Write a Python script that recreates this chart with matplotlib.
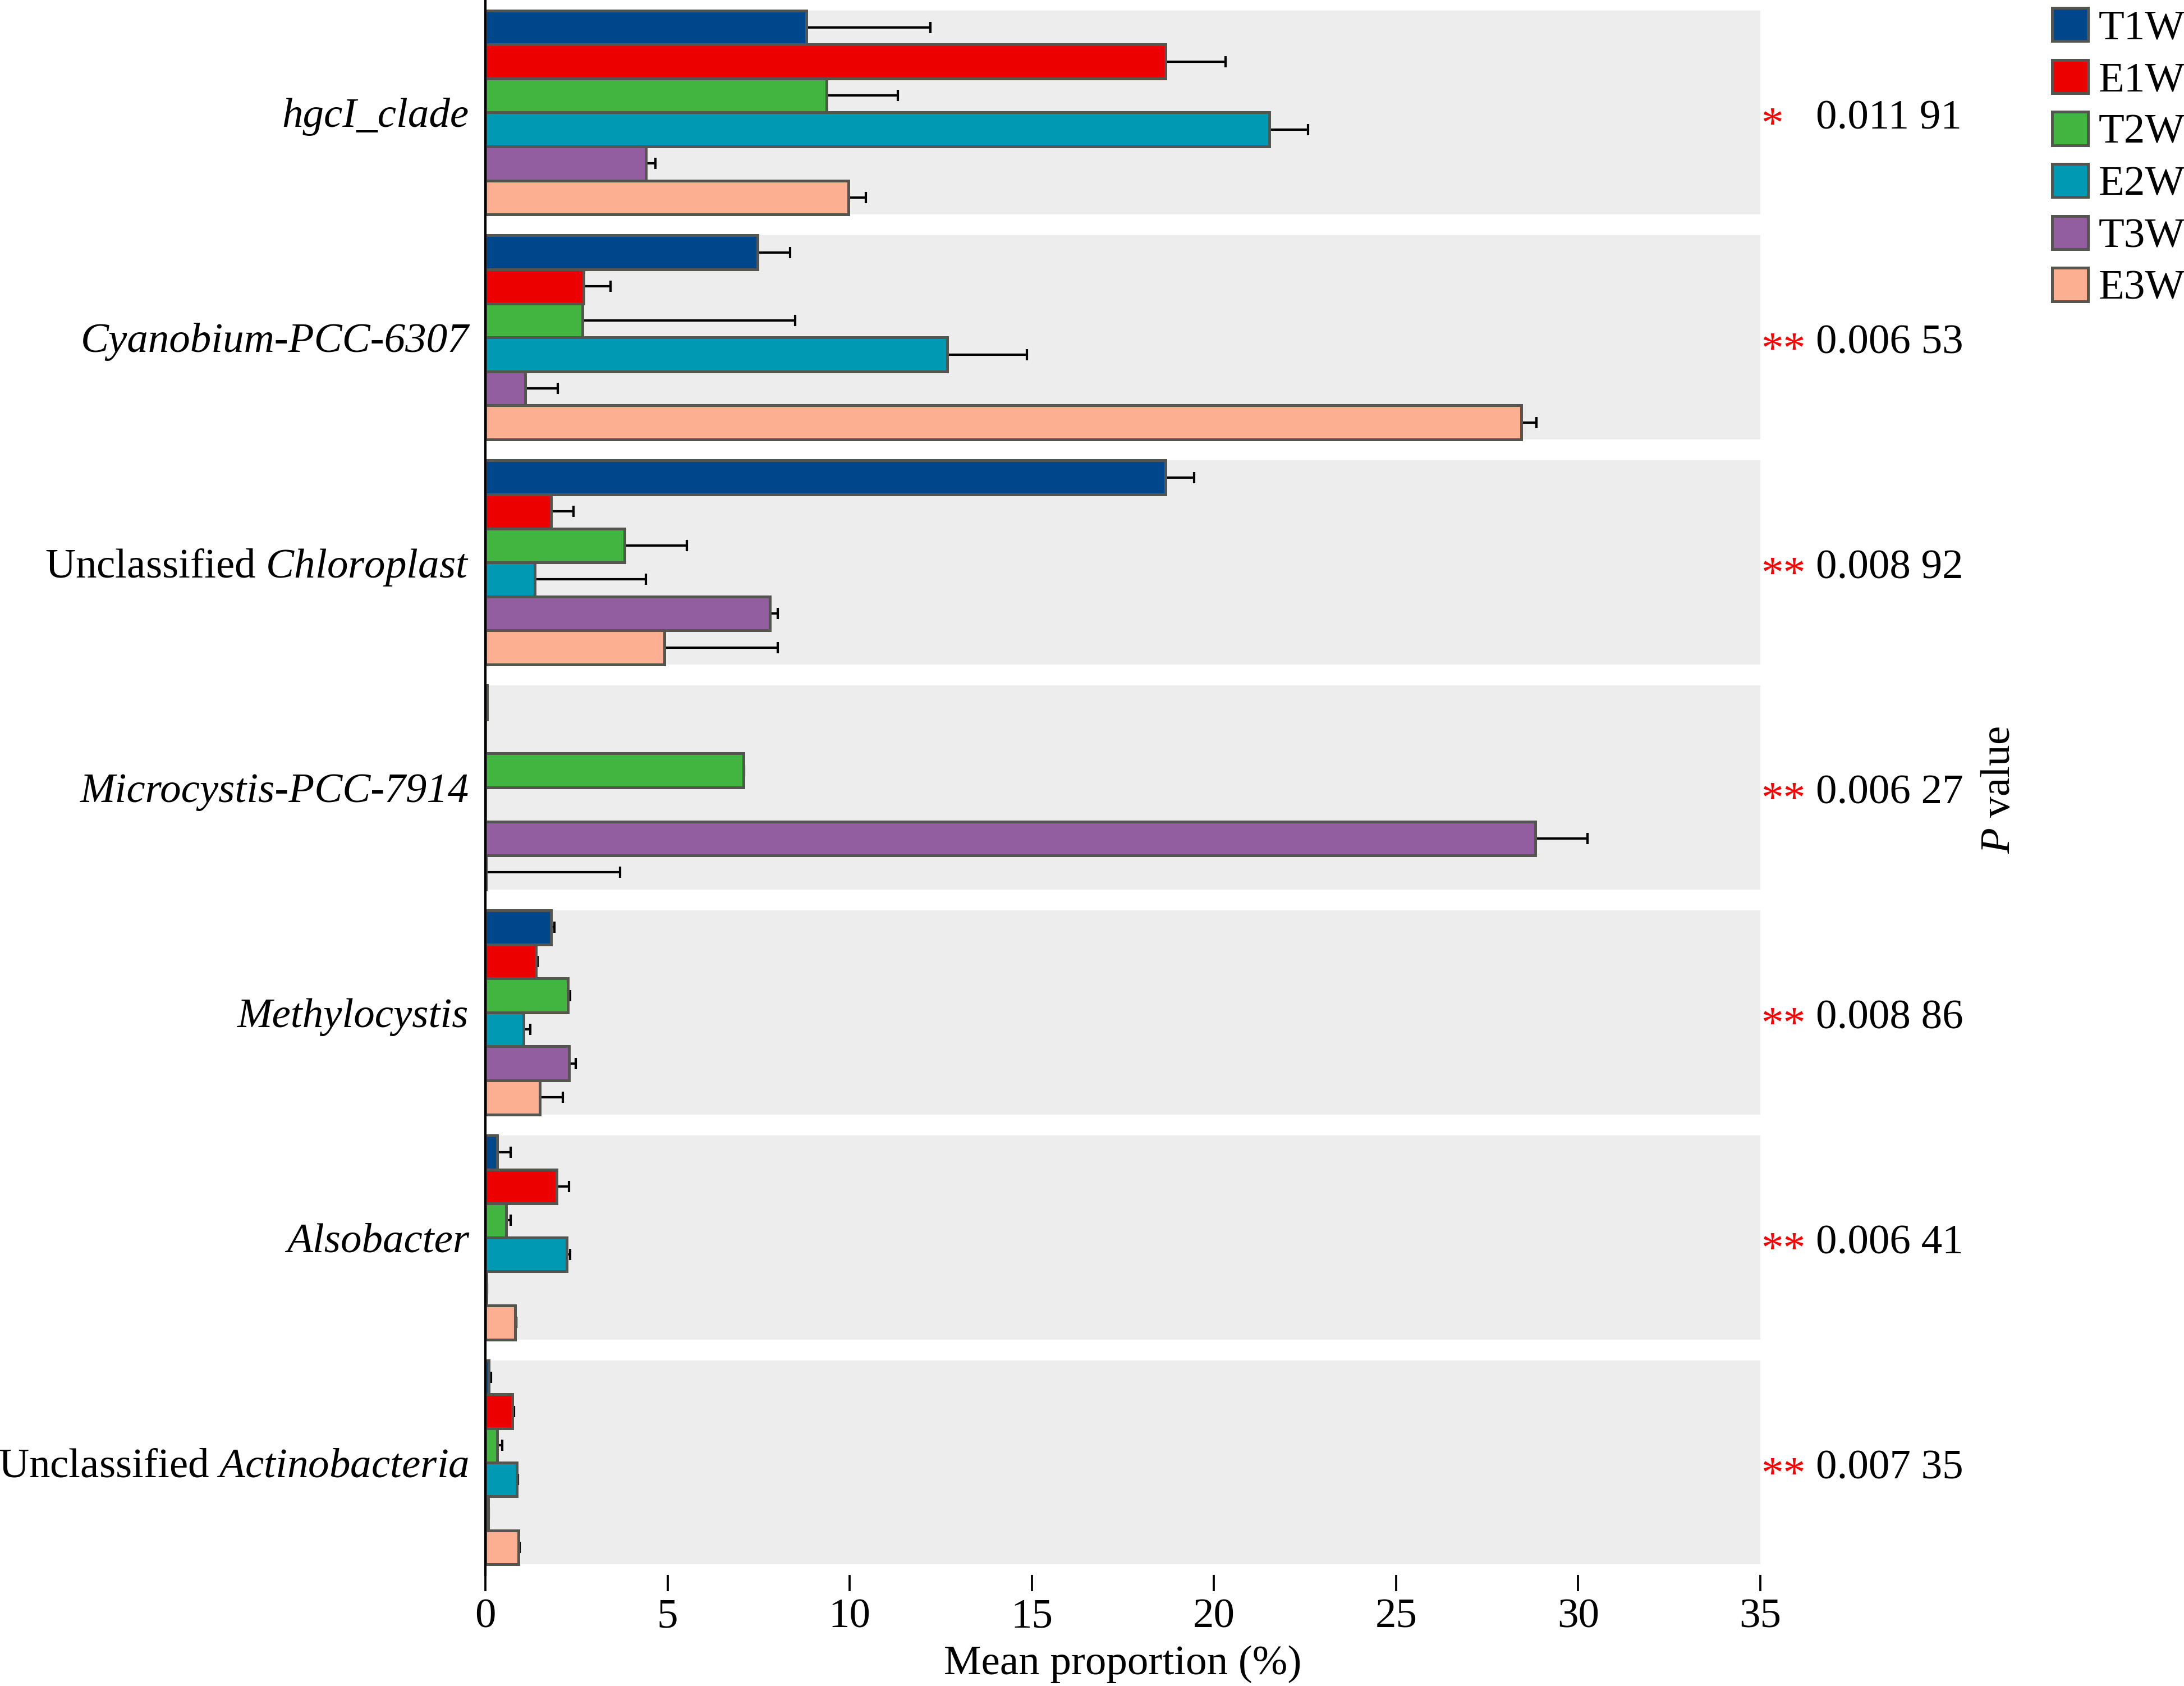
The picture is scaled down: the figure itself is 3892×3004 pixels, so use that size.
import numpy as np
import matplotlib
matplotlib.use("Agg")
import matplotlib.pyplot as plt
from matplotlib import transforms

plt.rcParams['font.family'] = ['Liberation Serif', 'DejaVu Serif']
plt.rcParams['mathtext.fontset'] = 'custom'
plt.rcParams['mathtext.rm'] = 'Liberation Serif'
plt.rcParams['mathtext.it'] = 'Liberation Serif:italic'

# ---------------- data ----------------
genera = ['hgcI_clade', 'Cyanobium-PCC-6307', 'Unclassified Chloroplast',
          'Microcystis-PCC-7914', 'Methylocystis', 'Alsobacter',
          'Unclassified Actinobacteria']
groups = ['T1W', 'E1W', 'T2W', 'E2W', 'T3W', 'E3W']

T1W = [8.81, 7.47, 18.67, 0.05, 1.81, 0.32, 0.10]
E1W = [18.67, 2.70, 1.81, 0.00, 1.38, 1.96, 0.74]
T2W = [9.36, 2.66, 3.82, 7.08, 2.27, 0.57, 0.32]
E2W = [21.52, 12.68, 1.36, 0.00, 1.04, 2.24, 0.87]
T3W = [4.41, 1.10, 7.81, 28.83, 2.29, 0.03, 0.07]
E3W = [9.97, 28.43, 4.92, 0.02, 1.49, 0.82, 0.91]

T1W_err = [3.40, 0.90, 0.79, 0.00, 0.08, 0.37, 0.05]
E1W_err = [1.65, 0.74, 0.61, 0.00, 0.05, 0.33, 0.04]
T2W_err = [1.97, 5.85, 1.71, 0.02, 0.06, 0.12, 0.14]
E2W_err = [1.06, 2.19, 3.05, 0.00, 0.20, 0.09, 0.03]
T3W_err = [0.26, 0.89, 0.21, 1.42, 0.19, 0.02, 0.03]
E3W_err = [0.47, 0.43, 3.10, 3.68, 0.63, 0.03, 0.03]

p_values = ['0.011 91', '0.006 53', '0.008 92', '0.006 27', '0.008 86',
            '0.006 41', '0.007 35']
stars = ['*', '**', '**', '**', '**', '**', '**']
x_ticks = [0, 5, 10, 15, 20, 25, 30, 35]

means = [T1W, E1W, T2W, E2W, T3W, E3W]
errs = [T1W_err, E1W_err, T2W_err, E2W_err, T3W_err, E3W_err]
colors = ['#00468B', '#ED0000', '#42B540', '#0099B4', '#925E9F', '#FDAF91']
edge = '#55554F'

# ---------------- figure ----------------
W, H = 3892, 3004
fig = plt.figure(figsize=(W / 300, H / 300), dpi=300)
ax = fig.add_axes([865 / W, 1 - 2806 / H, (3137 - 865) / W, 2806 / H])

n = len(genera)
yc = np.arange(n)
half = 0.4535
bh = 2 * half / len(groups)

for i in range(n):
    ax.axhspan(i - half, i + half, color='#EDEDED', lw=0, zorder=0)

handles = []
for j, (g, m, e, c) in enumerate(zip(groups, means, errs, colors)):
    ypos = yc - half + (j + 0.5) * bh
    b = ax.barh(ypos, m, height=bh, color=c, edgecolor=edge, linewidth=1.2,
                zorder=3, label=g)
    handles.append(b)
    ax.errorbar(m, ypos, xerr=[np.zeros(n), e], fmt='none', ecolor='black',
                elinewidth=1.0, capsize=2.3, capthick=1.0, zorder=2)

ax.set_xlim(0, 35)
ax.set_ylim(n - 0.5, -0.5)
for s in ['top', 'right', 'bottom']:
    ax.spines[s].set_visible(False)
ax.spines['left'].set_linewidth(1.0)
ax.spines['left'].set_zorder(5)

ax.set_xticks(x_ticks)
ax.set_xticklabels([str(t) for t in x_ticks])
ax.tick_params(axis='x', length=7, width=0.9, pad=3, labelsize=18)

labels = []
for gname in genera:
    if gname.startswith('Unclassified '):
        labels.append('Unclassified $\\mathit{' + gname.split(' ', 1)[1] + '}$')
    else:
        labels.append(gname)
ax.set_yticks(yc)
ax.set_yticklabels(labels)
ax.tick_params(axis='y', length=0, pad=7, labelsize=18)
for lab, gname in zip(ax.get_yticklabels(), genera):
    if not gname.startswith('Unclassified '):
        lab.set_fontstyle('italic')

ax.set_xlabel('Mean proportion (%)', fontsize=18, labelpad=4)

# p values
ytr = ax.get_yaxis_transform()
num_tr = transforms.offset_copy(ytr, fig=fig, x=0, y=-2.6, units='points')
star_tr = transforms.offset_copy(ytr, fig=fig, x=0, y=-5.9, units='points')
for i in range(n):
    ax.text(1.0005, i, stars[i], transform=star_tr, color='#FF0000',
            fontsize=19, ha='left', va='center', clip_on=False)
    ax.text(1.0437, i, p_values[i], transform=num_tr, color='black',
            fontsize=18, ha='left', va='center', clip_on=False)

fig.text(3563 / W, 1 - 1408 / H, '$\\mathit{P}$ value', rotation=90,
         fontsize=18, ha='center', va='center')

ax.legend(handles, groups, loc='upper left',
          bbox_to_anchor=(3657 / W, 1 - 14 / H), bbox_transform=fig.transFigure,
          frameon=False, borderpad=0, borderaxespad=0, handlelength=0.85,
          handleheight=0.84, handletextpad=0.25, labelspacing=0.28, fontsize=18)

fig.savefig('out.png', dpi=300)
